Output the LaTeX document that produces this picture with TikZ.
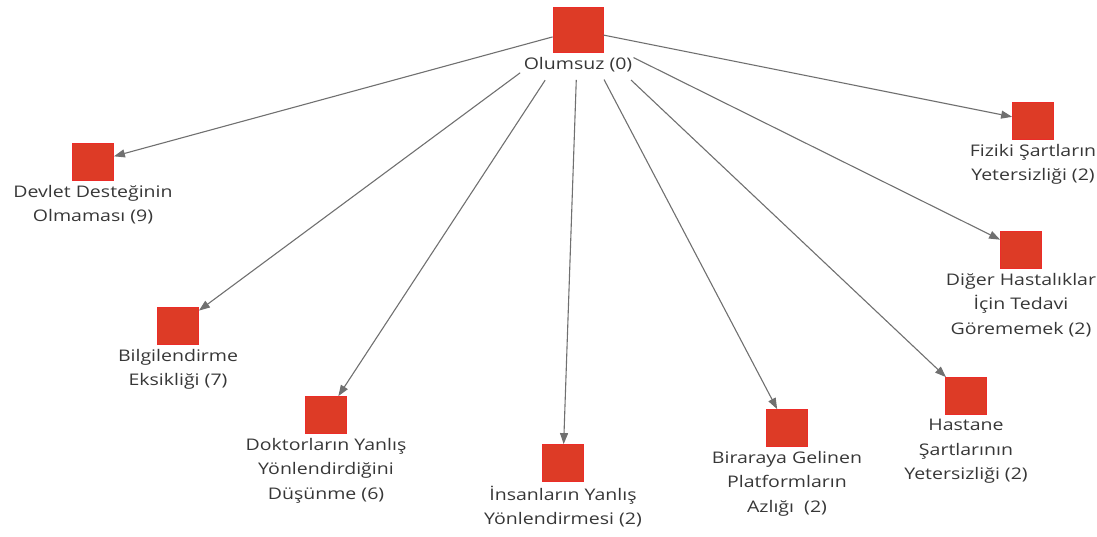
\documentclass[tikz,border=0pt]{standalone}
\usepackage{fontspec}
\setmainfont[FakeStretch=1.22]{Open Sans}
\usetikzlibrary{positioning,arrows.meta}
\definecolor{boxred}{RGB}{221,59,38}
\definecolor{boxedge}{RGB}{236,44,40}
\definecolor{txtgray}{RGB}{55,55,55}
\definecolor{lngray}{RGB}{112,112,112}

\begin{document}
\begin{tikzpicture}[x=1pt,y=-1pt,node distance=3pt,
    code/.style={draw=boxedge,fill=boxred,line width=0.8pt,minimum width=41pt,minimum height=37pt,inner sep=0pt},
    codetxt/.style={text=txtgray,align=center,font=\fontsize{16}{24.5}\selectfont,inner sep=1pt},
    arr/.style={draw=lngray,line width=1.1pt,-{Triangle[length=11pt,width=8pt]}}]
      \useasboundingbox (0,0) rectangle (1097,536);
      \node[code,minimum width=50pt,minimum height=45pt] (root) at (578,30) {};
      \node[codetxt] (rootlbl) [below = of root] {Olumsuz (0)};
      \node[code] (devlet) at (93,162) {};
      \node[codetxt] [below = of devlet] {Devlet Desteğinin\\Olmaması (9)};
      \node[code] (fiziki) at (1033,121) {};
      \node[codetxt] [below = of fiziki] {Fiziki Şartların\\Yetersizliği (2)};
      \node[code] (diger) at (1021,250) {};
      \node[codetxt] [below = of diger] {Diğer Hastalıklar\\İçin Tedavi\\Görememek (2)};
      \node[code] (bilgi) at (178,326) {};
      \node[codetxt] [below = of bilgi] {Bilgilendirme\\Eksikliği (7)};
      \node[code] (doktor) at (326,415) {};
      \node[codetxt] [below = of doktor] {Doktorların Yanlış\\Yönlendirdiğini\\Düşünme (6)};
      \node[code] (insan) at (563,463) {};
      \node[codetxt] [below = of insan] {İnsanların Yanlış\\Yönlendirmesi (2)};
      \node[code] (biraraya) at (787,428) {};
      \node[codetxt] [below = of biraraya] {Biraraya Gelinen\\Platformların\\Azlığı~~(2)};
      \node[code] (hastane) at (966,396) {};
      \node[codetxt] [below = of hastane] {Hastane\\Şartlarının\\Yetersizliği (2)};
      % edges from the root, cut at the label
      \path (root) edge[arr] (devlet);
      \path (root) edge[arr] (fiziki);
      \path (root.center) edge[arr,shorten <=72pt] (bilgi);
      \path (root.center) edge[arr,shorten <=60pt] (doktor);
      \path (root.center) edge[arr,shorten <=50pt] (insan);
      \path (root.center) edge[arr,shorten <=56pt] (biraraya);
      \path (root.center) edge[arr,shorten <=73pt] (hastane);
      \path (root.center) edge[arr,shorten <=62pt] (diger);
    \end{tikzpicture}
\end{document}
